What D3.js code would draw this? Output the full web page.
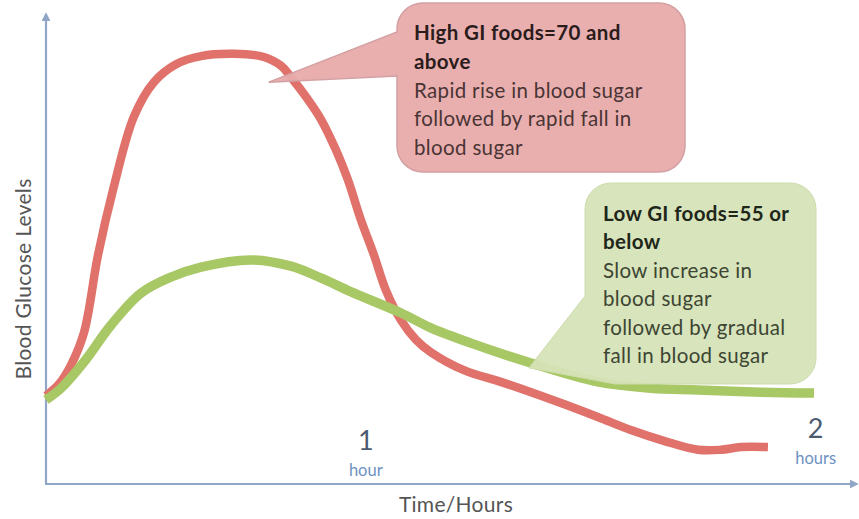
<!DOCTYPE html>
<html>
<head>
<meta charset="utf-8">
<script src="https://cdn.jsdelivr.net/npm/d3@7"></script>
<style>
  html, body { margin: 0; padding: 0; background: #fff; }
  svg { display: block; font-family: Lato, "Open Sans", sans-serif; }
</style>
</head>
<body>
<svg id="chart" width="859" height="519"></svg>
<script>
// Time after eating (minutes) and relative blood glucose level (0-100)
const highGiTime = [0, 2.4, 4.6, 7.0, 9.6, 12.5, 16.2, 19.9, 24.0, 28.6, 34.7, 40.2, 43.4, 45.2, 48.0, 50.7, 53.5, 55.7, 58.1, 60.5, 62.7, 65.5, 68.3, 71.0, 77.1, 83.9, 89.5, 95.9, 101.8, 107.9, 114.0, 120.3, 124.5, 128.2, 133.2];
const highGiLevel = [19.6, 22.2, 26.4, 33.6, 50.9, 66.0, 81.6, 89.3, 93.3, 95.1, 95.6, 94.9, 92.9, 90.4, 86.0, 81.1, 74.2, 67.6, 58.7, 50.9, 43.1, 36.4, 32.0, 29.3, 25.3, 22.7, 20.4, 17.6, 14.9, 12.0, 9.6, 7.6, 7.6, 8.2, 8.2];

const lowGiTime = [0, 2.8, 7.0, 12.0, 17.5, 23.1, 28.6, 37.8, 45.2, 50.7, 56.3, 65.5, 71.0, 78.4, 88.9, 101.8, 111.6, 120.3, 131.9, 141.7];
const lowGiLevel = [18.7, 21.3, 27.1, 35.3, 42.4, 46.0, 48.2, 49.8, 48.4, 45.8, 42.7, 38.0, 34.7, 31.3, 27.1, 22.7, 21.3, 20.9, 20.4, 20.2];

// Time markers along the axis
const markerTime = [59, 142];
const markerValue = ["1", "2"];
const markerUnit = ["hour", "hours"];

const highGiText = ["High GI foods=70 and", "above", "Rapid rise in blood sugar", "followed by rapid fall in", "blood sugar"];
const lowGiText = ["Low GI foods=55 or", "below", "Slow increase in", "blood sugar", "followed by gradual", "fall in blood sugar"];

const svg = d3.select("#chart");

const x = d3.scaleLinear().domain([0, 150]).range([46, 859]);
const y = d3.scaleLinear().domain([0, 100]).range([484, 34]);

const line = d3.line()
  .x(d => x(d[0]))
  .y(d => y(d[1]))
  .curve(d3.curveCatmullRom.alpha(0.5));

const highGi = highGiTime.map((t, i) => [t, highGiLevel[i]]);
const lowGi = lowGiTime.map((t, i) => [t, lowGiLevel[i]]);

// Axes with arrow heads
const axisColor = "#8fa6c8";
svg.append("defs").append("marker")
  .attr("id", "arrow")
  .attr("viewBox", "0 0 10 10")
  .attr("refX", 8).attr("refY", 5)
  .attr("markerWidth", 4).attr("markerHeight", 4)
  .attr("orient", "auto")
  .append("path")
  .attr("d", "M0,0 L10,5 L0,10 Z")
  .attr("fill", axisColor);

svg.append("line")
  .attr("x1", x(0)).attr("y1", y(0))
  .attr("x2", x(0)).attr("y2", 14)
  .attr("stroke", axisColor).attr("stroke-width", 2.2)
  .attr("marker-end", "url(#arrow)");
svg.append("line")
  .attr("x1", x(0) - 1).attr("y1", y(0))
  .attr("x2", 857).attr("y2", y(0))
  .attr("stroke", axisColor).attr("stroke-width", 2.2)
  .attr("marker-end", "url(#arrow)");

// Axis titles
svg.append("text")
  .attr("transform", `translate(31,${279}) rotate(-90)`)
  .attr("text-anchor", "middle")
  .attr("font-size", 21)
  .attr("letter-spacing", 0.3)
  .attr("fill", "#555")
  .text("Blood Glucose Levels");
svg.append("text")
  .attr("x", 456).attr("y", 512)
  .attr("text-anchor", "middle")
  .attr("font-size", 21)
  .attr("letter-spacing", 0.3)
  .attr("fill", "#555")
  .text("Time/Hours");

// Curves
svg.append("path")
  .attr("d", line(highGi))
  .attr("fill", "none")
  .attr("stroke", "#e0716b")
  .attr("stroke-width", 8.5)
  .attr("stroke-linecap", "butt")
  .attr("stroke-linejoin", "round");
svg.append("path")
  .attr("d", line(lowGi))
  .attr("fill", "none")
  .attr("stroke", "#a8c765")
  .attr("stroke-width", 9.5)
  .attr("stroke-linecap", "butt")
  .attr("stroke-linejoin", "round");

// Hour markers
const markers = svg.append("g");
markerTime.forEach((t, i) => {
  const baseY = i === 0 ? 450 : 438;
  markers.append("text")
    .attr("x", x(t)).attr("y", baseY)
    .attr("text-anchor", "middle")
    .attr("font-size", 27)
    .attr("fill", "#4b5a70")
    .text(markerValue[i]);
  markers.append("text")
    .attr("x", x(t)).attr("y", baseY + 26)
    .attr("text-anchor", "middle")
    .attr("font-size", 16.5)
    .attr("fill", "#6d91c2")
    .text(markerUnit[i]);
});

// Callout: rounded box with a pointer running to a spot on the curve
function roundedWithTailLeft(bx, by, bw, bh, r, tail) {
  // tail: {top, bottom, tx, ty} attaches on the left edge
  const p = d3.path();
  p.moveTo(bx + r, by);
  p.lineTo(bx + bw - r, by);
  p.arcTo(bx + bw, by, bx + bw, by + r, r);
  p.lineTo(bx + bw, by + bh - r);
  p.arcTo(bx + bw, by + bh, bx + bw - r, by + bh, r);
  p.lineTo(bx + r, by + bh);
  p.arcTo(bx, by + bh, bx, by + bh - r, r);
  p.lineTo(bx, tail.bottom);
  p.lineTo(tail.tx, tail.ty);
  p.lineTo(bx, tail.top);
  p.lineTo(bx, by + r);
  p.arcTo(bx, by, bx + r, by, r);
  p.closePath();
  return p.toString();
}
function roundedWithTailCorner(bx, by, bw, bh, r, tail) {
  // tail: runs from the bottom edge (at bottomX) to the left edge (at leftY)
  const p = d3.path();
  p.moveTo(bx + r, by);
  p.lineTo(bx + bw - r, by);
  p.arcTo(bx + bw, by, bx + bw, by + r, r);
  p.lineTo(bx + bw, by + bh - r);
  p.arcTo(bx + bw, by + bh, bx + bw - r, by + bh, r);
  p.lineTo(tail.bottomX, by + bh);
  p.lineTo(tail.tx, tail.ty);
  p.lineTo(bx, tail.leftY);
  p.lineTo(bx, by + r);
  p.arcTo(bx, by, bx + r, by, r);
  p.closePath();
  return p.toString();
}

// High GI callout
svg.append("path")
  .attr("d", roundedWithTailLeft(397, 3, 288, 169, 26,
    { top: 32, bottom: 76, tx: x(41.1), ty: y(89.3) }))
  .attr("fill", "#e8abab")
  .attr("fill-opacity", 0.95)
  .attr("stroke", "#d3a0a3")
  .attr("stroke-width", 1.5);
const hiText = svg.append("text").attr("font-size", 20.5).attr("letter-spacing", 0.35);
highGiText.forEach((s, i) => {
  hiText.append("tspan")
    .attr("x", 414).attr("y", 40 + i * 28.8)
    .attr("font-weight", i < 2 ? "bold" : "normal")
    .attr("fill", i < 2 ? "#2b1c1c" : "#4a3434")
    .text(s);
});

// Low GI callout
svg.append("path")
  .attr("d", roundedWithTailCorner(585, 183, 231, 201, 26,
    { bottomX: 615, leftY: 296, tx: x(89.1), ty: y(25.8) }))
  .attr("fill", "#d6e3b7")
  .attr("fill-opacity", 0.95)
  .attr("stroke", "#cddcab")
  .attr("stroke-width", 1);
const loText = svg.append("text").attr("font-size", 20.5).attr("letter-spacing", 0.35);
lowGiText.forEach((s, i) => {
  loText.append("tspan")
    .attr("x", 603).attr("y", 221 + i * 28.4)
    .attr("font-weight", i < 2 ? "bold" : "normal")
    .attr("fill", i < 2 ? "#1f261a" : "#3d4533")
    .text(s);
});
</script>
</body>
</html>
